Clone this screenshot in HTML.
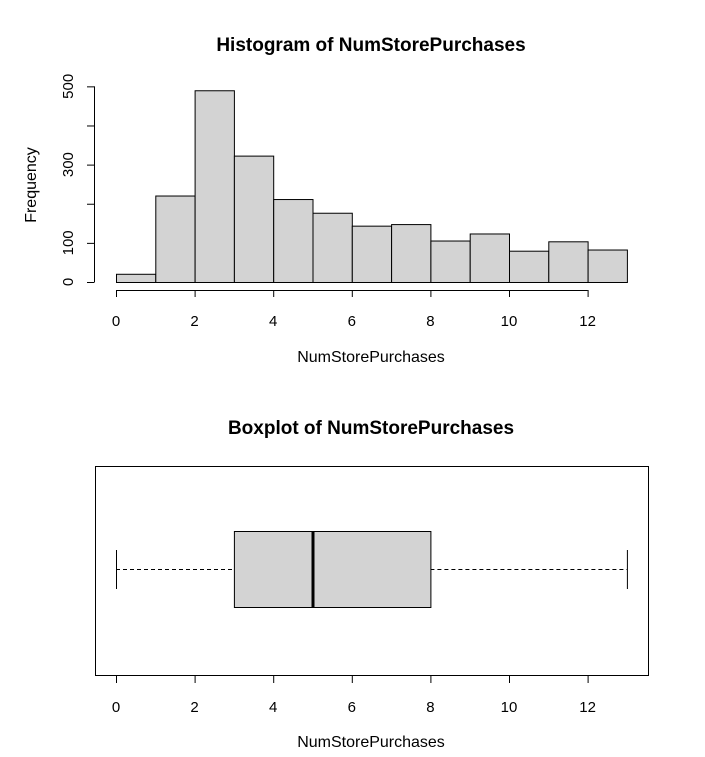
<!DOCTYPE html>
<html><head><meta charset="utf-8"><style>body{margin:0;background:#fff}svg{display:block}text{font-family:"Liberation Sans",Arial,sans-serif;fill:#000}</style></head>
<body>
<svg id="c" width="705" height="757">
<text x="371" y="51" text-anchor="middle" font-size="19" font-weight="bold">Histogram of NumStorePurchases</text>
<text x="371" y="362" text-anchor="middle" font-size="16">NumStorePurchases</text>
<text transform="translate(36,185) rotate(-90)" text-anchor="middle" font-size="16">Frequency</text>
<g id="hist"></g>
<text x="371" y="434" text-anchor="middle" font-size="19" font-weight="bold">Boxplot of NumStorePurchases</text>
<text x="371" y="747" text-anchor="middle" font-size="16">NumStorePurchases</text>
<rect x="95.5" y="466.5" width="553" height="209" fill="none" stroke="#000"/>
<g id="box"></g>
</svg>
<script>
const binEdges=[0,1,2,3,4,5,6,7,8,9,10,11,12,13];
const counts=[21,221,490,323,212,177,144,148,106,124,80,104,83];
const xTicks=[0,2,4,6,8,10,12];
const yTicks=[0,100,200,300,400,500];
const yTickLabels=["0","100","","300","","500"];
const boxStats=[0,3,5,8,13];
const NS="http://www.w3.org/2000/svg";
function mk(p,t,a){const e=document.createElementNS(NS,t);for(const k in a)e.setAttribute(k,a[k]);p.appendChild(e);return e;}
const sx=v=>116+v*39.3;
const sy=v=>282-v*0.3913;
const h=document.getElementById('hist');
for(let i=0;i<counts.length;i++){
 const r=mk(h,'rect',{x:sx(binEdges[i])+0.5,y:sy(counts[i])+0.5,width:sx(binEdges[i+1])-sx(binEdges[i]),height:sy(0)-sy(counts[i]),fill:'#d3d3d3',stroke:'#000'});
 
 
}
const ax=mk(h,'line',{x1:sx(xTicks[0]),x2:sx(xTicks[xTicks.length-1]),y1:290.5,y2:290.5,stroke:'#000'});


xTicks.forEach(t=>{mk(h,'line',{x1:sx(t)+0.5,x2:sx(t)+0.5,y1:290,y2:297,stroke:'#000'});
 const tx=mk(h,'text',{x:sx(t),y:326,'text-anchor':'middle','font-size':15});tx.textContent=t;
 
 });
const ay=mk(h,'line',{x1:94.5,x2:94.5,y1:sy(0),y2:sy(500),stroke:'#000'});


yTicks.forEach((t,i)=>{mk(h,'line',{x1:87,x2:94.5,y1:sy(t)+0.5,y2:sy(t)+0.5,stroke:'#000'});
 if(yTickLabels[i]){const tx=mk(h,'text',{transform:`translate(73,${sy(t)}) rotate(-90)`,'text-anchor':'middle','font-size':15});tx.textContent=yTickLabels[i];
 
 }});
const b=document.getElementById('box');
const cy=569.5;
const wl=mk(b,'line',{x1:sx(boxStats[0]),x2:sx(boxStats[1]),y1:cy,y2:cy,stroke:'#000','stroke-dasharray':'4,3'});

const wu=mk(b,'line',{x1:sx(boxStats[3]),x2:sx(boxStats[4]),y1:cy,y2:cy,stroke:'#000','stroke-dasharray':'4,3'});

[0,4].forEach(i=>{const c=mk(b,'line',{x1:sx(boxStats[i])+0.5,x2:sx(boxStats[i])+0.5,y1:550,y2:589,stroke:'#000'});
 });
const bx=mk(b,'rect',{x:sx(boxStats[1])+0.5,y:531.5,width:sx(boxStats[3])-sx(boxStats[1]),height:76,fill:'#d3d3d3',stroke:'#000'});

const md=mk(b,'line',{x1:sx(boxStats[2])+0.5,x2:sx(boxStats[2])+0.5,y1:531,y2:608,stroke:'#000','stroke-width':3});

xTicks.forEach(t=>{mk(b,'line',{x1:sx(t)+0.5,x2:sx(t)+0.5,y1:676,y2:683,stroke:'#000'});
 const tx=mk(b,'text',{x:sx(t),y:712,'text-anchor':'middle','font-size':15});tx.textContent=t;
 
 });
mk(b,'line',{x1:sx(0),x2:sx(12),y1:675.5,y2:675.5,stroke:'#000'});
</script>
</body></html>
